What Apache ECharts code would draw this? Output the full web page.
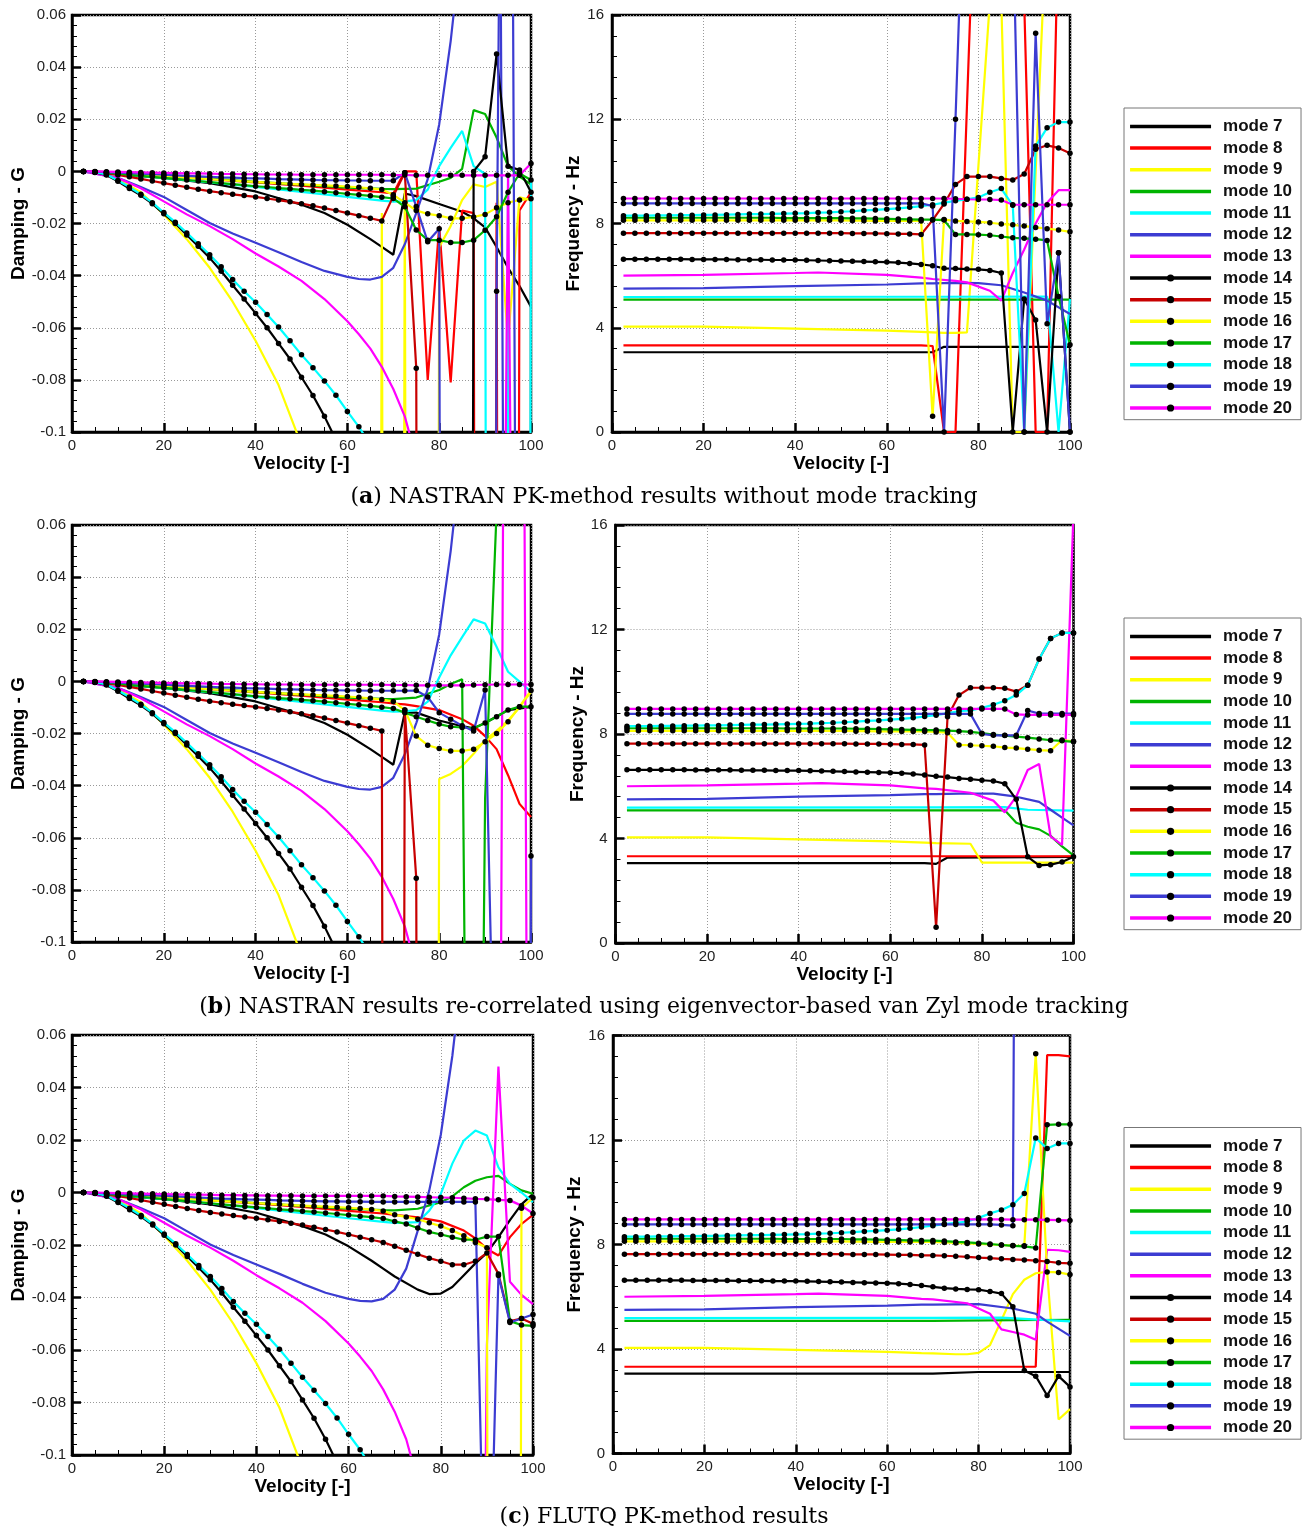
<!DOCTYPE html>
<html>
<head>
<meta charset="utf-8">
<title>Flutter analysis: damping and frequency versus velocity</title>
<script src="https://cdn.jsdelivr.net/npm/echarts@6/dist/echarts.min.js"></script>
<style>
  html, body { margin: 0; padding: 0; background: #fff; }
  #chart { width: 1306px; height: 1531px; }
</style>
</head>
<body>
<div id="chart"></div>
<script>
// velocity stations of the flutter sweep
const vel = [2.5, 5, 7.5, 10, 12.5, 15, 17.5, 20, 22.5, 25, 27.5, 30, 32.5, 35, 37.5, 40, 42.5, 45, 47.5, 50,
  52.5, 55, 57.5, 60, 62.5, 65, 67.5, 70, 72.5, 75, 77.5, 80, 82.5, 85, 87.5, 90, 92.5, 95, 97.5, 100];

// ---- damping, low-speed part (v = 2.5 .. 67.5), same in all three analyses ----
const dLow14 = [0, -0.0004, -0.0014, -0.0038, -0.0066, -0.0092, -0.0124, -0.0163, -0.02, -0.0244, -0.0287, -0.0332, -0.0383, -0.0437, -0.049, -0.0545, -0.06, -0.066, -0.072, -0.079, -0.086, -0.094, -0.103, -0.113, -0.124, -0.136, -0.15];
const dLow15 = [0, -0.0003, -0.0008, -0.0014, -0.0021, -0.0029, -0.0037, -0.0045, -0.0053, -0.0061, -0.0069, -0.0076, -0.0082, -0.0088, -0.0093, -0.0098, -0.0104, -0.011, -0.0117, -0.0124, -0.0132, -0.0141, -0.015, -0.016, -0.017, -0.018, -0.019];
const dLow16 = [0, -0.0001, -0.0003, -0.0006, -0.0009, -0.0012, -0.0015, -0.0018, -0.0021, -0.0024, -0.0027, -0.003, -0.0033, -0.0035, -0.0038, -0.004, -0.0043, -0.0045, -0.0048, -0.005, -0.0052, -0.0054, -0.0056, -0.0058, -0.0061, -0.0065, -0.007];
const dLow17 = [0, -0.0002, -0.0005, -0.0009, -0.0013, -0.0017, -0.0021, -0.0025, -0.0029, -0.0033, -0.0037, -0.0041, -0.0045, -0.0049, -0.0053, -0.0057, -0.006, -0.0064, -0.0067, -0.0071, -0.0074, -0.0078, -0.0082, -0.0086, -0.009, -0.0094, -0.0099];
const dLow18 = [0, -0.0003, -0.0012, -0.0035, -0.006, -0.0088, -0.012, -0.0158, -0.0195, -0.0236, -0.0278, -0.032, -0.0366, -0.0415, -0.046, -0.0502, -0.0549, -0.0597, -0.065, -0.0704, -0.0753, -0.0804, -0.0859, -0.0921, -0.098, -0.105, -0.112];
const dLow19 = [0, -0.0001, -0.0003, -0.0005, -0.0007, -0.0009, -0.0011, -0.0013, -0.0015, -0.0017, -0.0019, -0.0021, -0.0023, -0.0024, -0.0026, -0.0027, -0.0028, -0.003, -0.0031, -0.0032, -0.0033, -0.0034, -0.0034, -0.0035, -0.0035, -0.0036, -0.0036];
const dLow20 = [0, 0, -0.0001, -0.0002, -0.0003, -0.0004, -0.0005, -0.0006, -0.0007, -0.0008, -0.0008, -0.0009, -0.001, -0.001, -0.0011, -0.0011, -0.0012, -0.0012, -0.0012, -0.0013, -0.0013, -0.0013, -0.0013, -0.0013, -0.0013, -0.0013, -0.0013];
const dLow7 = [[2.5, 0], [10, -0.0012], [20, -0.0025], [30, -0.0045], [40, -0.0077], [50, -0.0128], [55, -0.016], [60, -0.0205], [65, -0.026], [67.5, -0.029]];
const dLow8 = [[2.5, 0], [10, -0.0008], [20, -0.0018], [30, -0.003], [40, -0.0042], [50, -0.0055], [60, -0.007], [67.5, -0.008]];
const dLow9 = [[2.5, 0], [5, -0.0003], [10, -0.003], [15, -0.008], [20, -0.0165], [25, -0.026], [30, -0.037], [35, -0.05], [40, -0.065], [45, -0.082], [50, -0.105], [55, -0.14], [60, -0.19]];
const dLow10 = [[2.5, 0], [10, -0.0006], [20, -0.0016], [30, -0.0028], [40, -0.004], [50, -0.0051], [60, -0.0062], [67.5, -0.0067]];
const dLow11 = [[2.5, 0], [10, -0.001], [20, -0.0025], [30, -0.0042], [40, -0.006], [50, -0.0079], [60, -0.0098], [67.5, -0.0112]];
const dLow12 = [[2.5, 0], [10, -0.0025], [15, -0.006], [20, -0.0098], [25, -0.0148], [30, -0.0198], [35, -0.0238], [40, -0.0274], [45, -0.031], [50, -0.0348], [55, -0.0382], [60, -0.0405], [62.5, -0.0413], [65, -0.0415], [67.5, -0.0405]];
const dLow13 = [[2.5, 0], [10, -0.0025], [15, -0.0065], [20, -0.0115], [25, -0.0165], [30, -0.021], [35, -0.026], [40, -0.0315], [45, -0.0365], [50, -0.042], [55, -0.049], [60, -0.0575], [62.5, -0.0625], [65, -0.068], [67.5, -0.075]];

// ---- frequency, low-speed part (v = 2.5 .. 67.5) ----
const fLow14 = [6.63, 6.63, 6.63, 6.63, 6.63, 6.63, 6.62, 6.62, 6.62, 6.62, 6.61, 6.61, 6.61, 6.6, 6.6, 6.6, 6.59, 6.58, 6.57, 6.56, 6.55, 6.54, 6.53, 6.52, 6.5, 6.47, 6.43];
const fLow15 = [7.63, 7.63, 7.63, 7.63, 7.63, 7.63, 7.63, 7.63, 7.63, 7.63, 7.63, 7.63, 7.63, 7.63, 7.63, 7.63, 7.63, 7.63, 7.63, 7.63, 7.62, 7.62, 7.62, 7.61, 7.6, 7.6, 7.58];
const fLow16 = [8.12, 8.12, 8.12, 8.12, 8.12, 8.12, 8.12, 8.12, 8.12, 8.12, 8.12, 8.12, 8.12, 8.12, 8.12, 8.12, 8.12, 8.12, 8.12, 8.12, 8.11, 8.11, 8.1, 8.1, 8.1, 8.1, 8.1];
const fLow17 = [8.22, 8.22, 8.22, 8.22, 8.22, 8.22, 8.22, 8.22, 8.22, 8.22, 8.22, 8.22, 8.22, 8.22, 8.21, 8.21, 8.21, 8.21, 8.21, 8.21, 8.2, 8.2, 8.19, 8.18, 8.17, 8.16, 8.15];
const fLow18 = [8.3, 8.3, 8.3, 8.31, 8.31, 8.32, 8.32, 8.33, 8.33, 8.34, 8.35, 8.36, 8.36, 8.37, 8.38, 8.39, 8.4, 8.42, 8.43, 8.45, 8.47, 8.5, 8.52, 8.55, 8.58, 8.62, 8.67];
const fLow19 = [8.77, 8.77, 8.77, 8.77, 8.77, 8.77, 8.77, 8.77, 8.77, 8.77, 8.77, 8.77, 8.77, 8.77, 8.77, 8.77, 8.77, 8.77, 8.77, 8.77, 8.77, 8.77, 8.77, 8.77, 8.77, 8.77, 8.77];
const fLow20 = [8.96, 8.96, 8.96, 8.96, 8.96, 8.96, 8.96, 8.96, 8.96, 8.96, 8.96, 8.96, 8.96, 8.96, 8.96, 8.96, 8.96, 8.96, 8.96, 8.96, 8.96, 8.96, 8.96, 8.96, 8.96, 8.96, 8.96];
const fLow7 = [[2.5, 3.06], [67.5, 3.06]];
const fLow8 = [[2.5, 3.32], [67.5, 3.32]];
const fLow9 = [[2.5, 4.04], [20, 4.04], [40, 3.97], [60, 3.89], [67.5, 3.84]];
const fLow10 = [[2.5, 5.08], [67.5, 5.08]];
const fLow11 = [[2.5, 5.18], [67.5, 5.19]];
const fLow12 = [[2.5, 5.5], [20, 5.52], [40, 5.6], [60, 5.66], [67.5, 5.7]];
const fLow13 = [[2.5, 6.0], [20, 6.03], [40, 6.1], [45, 6.12], [60, 6.03], [67.5, 5.92]];

// ---- (a) NASTRAN PK, no tracking: v = 70 .. 100 ----
const aD7 = dLow7.concat([[70, -0.032], [72.5, -0.0085], [75, -0.0095], [80, -0.0125], [85, -0.0155], [87.5, -0.018], [90, -0.0215], [92.5, -0.029], [95, -0.037], [97.5, -0.044], [100, -0.052]]);
const aD8 = dLow8.concat([[70, -0.0085], [72.5, 0], [75, 0], [77.5, -0.08], [80, -0.021], [82.5, -0.081], [85, -0.015], [87.5, -0.016], [90, -2], [92.5, -0.012], [95, -2], [97.5, -0.015], [100, -0.008]]);
const aD9 = dLow9.concat([[65, -2], [67.5, -0.016], [70, -2], [72.5, -0.007], [75, -2], [77.5, -2], [80, -0.029], [82.5, -0.021], [85, -0.011], [87.5, -0.005], [90, -0.006], [92.5, -0.004], [95, -0.065], [97.5, -0.01], [100, -0.011]]);
const aD10 = dLow10.concat([[70, -0.0068], [75, -0.0066], [80, -0.004], [82.5, -0.0025], [85, 0.001], [87.5, 0.0235], [90, 0.022], [92.5, 0.013], [95, 0.002], [97.5, -0.002], [100, -0.005]]);
const aD11 = dLow11.concat([[70, -0.0116], [72.5, -0.0115], [75, -0.011], [77.5, -0.007], [80, 0.002], [82.5, 0.009], [85, 0.0155], [87.5, 0.002], [90, -0.001], [92.5, -2], [95, -0.001], [97.5, -2], [100, -0.004]]);
const aD12 = dLow12.concat([[70, -0.037], [72.5, -0.028], [75, -0.016], [77.5, -0.003], [80, 0.018], [82.5, 0.05], [85, 0.09], [87.5, 0.15], [90, 0.2], [92.5, 0.4], [95, -0.5], [100, -0.5]]);
const aD13 = dLow13.concat([[70, -0.0835], [72.5, -0.094], [75, -0.11], [80, -0.3], [92.5, -0.5], [95, -0.002], [97.5, -0.5], [100, -0.5]]);
const aD14 = dLow14.concat([-0.165, -0.2, -0.3, -0.5, -1, -1.5, -2, 0, 0.0056, 0.045, 0.002, 0.0005, -0.008]);
const aD15 = dLow15.concat([-0.0095, -0.0005, -0.0755, -2, -2, -2, -2, -2, -2, -2, -2, -2, -2]);
const aD16 = dLow16.concat([-0.009, -0.012, -0.015, -0.0163, -0.017, -0.018, -0.018, -0.0175, -0.0165, -0.014, -0.012, -0.011, -0.0105]);
const aD17 = dLow17.concat([-0.0104, -0.0136, -0.0225, -0.0264, -0.0264, -0.0273, -0.0273, -0.0264, -0.0226, -0.0174, -0.008, -0.0008, -0.0033]);
const aD18 = dLow18.concat([-0.12, -0.13, -0.14, -0.15, -0.17, -0.19, -0.21, -0.24, -0.27, -0.3, -0.33, -0.36, -0.4]);
const aD19 = dLow19.concat([-0.0036, -0.0005, -0.0135, -0.027, -0.022, -2, -2, -2, -2, -0.046, 0.5, -0.5, -0.5]);
const aD20 = dLow20.concat([-0.0014, -0.0014, -0.0015, -0.0015, -0.0015, -0.0015, -0.0015, -0.0015, -0.0015, -0.0015, -0.0015, -0.0015, 0.003]);

const aF7 = fLow7.concat([[70, 3.06], [72.5, 3.27], [100, 3.27]]);
const aF8 = fLow8.concat([[70, 3.3], [72.5, 0], [75, 0], [77.5, 12.5], [80, 25], [87.5, 25], [90, 16.5], [92.5, 0], [95, 0], [97.5, 20], [100, 20]]);
const aF9 = fLow9.concat([[70, 3.82], [72.5, 3.8], [75, 3.8], [77.5, 3.82], [80, 10.2], [82.5, 16.5], [85, 16.5], [87.5, 0], [90, 0], [92.5, 10], [95, 20], [100, 20]]);
const aF10 = fLow10.concat([[70, 5.08], [100, 5.08]]);
const aF11 = fLow11.concat([[70, 5.19], [95, 5.2], [97.5, 0], [100, 5.1]]);
const aF12 = fLow12.concat([[70, 5.7], [75, 5.72], [80, 5.71], [85, 5.63], [90, 5.35], [95, 5.04], [100, 4.53]]);
const aF13 = fLow13.concat([[70, 5.87], [75, 5.8], [77.5, 5.74], [82.5, 5.42], [85, 5.04], [87.5, 6.1], [90, 7.0], [92.5, 8.0], [95, 8.8], [97.5, 9.28], [100, 9.28]]);
const aF14 = fLow14.concat([6.38, 6.28, 6.27, 6.25, 6.24, 6.2, 6.1, 0, 5.1, 4.3, 0, 6.88, 0]);
const aF15 = fLow15.concat([8.13, 8.75, 9.5, 9.8, 9.8, 9.8, 9.73, 9.67, 9.9, 10.85, 11.0, 10.9, 10.7]);
const aF16 = fLow16.concat([0.6, 8.15, 8.1, 8.08, 8.06, 8.03, 7.98, 7.95, 7.9, 7.85, 7.8, 7.75, 7.68]);
const aF17 = fLow17.concat([8.15, 8.13, 7.58, 7.58, 7.57, 7.55, 7.5, 7.45, 7.43, 7.4, 7.35, 5.2, 3.35]);
const aF18 = fLow18.concat([8.72, 8.8, 8.87, 8.93, 9.0, 9.2, 9.34, 8.7, 0, 10.97, 11.67, 11.89, 11.89]);
const aF19 = fLow19.concat([8.67, 0, 12, 25, 25, 25, 25, 20, 0, 15.3, 4.15, 6.88, 0]);
const aF20 = fLow20.concat([8.96, 8.96, 8.95, 8.93, 8.92, 8.92, 8.9, 8.72, 8.72, 8.72, 8.72, 8.72, 8.72]);

// ---- (b) NASTRAN re-correlated with van Zyl tracking ----
const bD7 = dLow7.concat([[70, -0.032], [72.5, -0.012], [75, -0.012], [80, -0.015], [85, -0.0172], [87.5, -0.018], [90, -0.016], [95, -0.011], [100, -0.0098]]);
const bD8 = dLow8.concat([[70, -0.0085], [72.5, -0.0088], [75, -0.0095], [80, -0.011], [85, -0.0145], [87.5, -0.017], [90, -0.021], [92.5, -0.026], [95, -0.036], [97.5, -0.047], [100, -0.052]]);
const bD9 = dLow9.concat([[65, -0.26], [70, -0.4], [77.5, -2], [80, -0.0375], [82.5, -0.0355], [85, -0.0325], [87.5, -0.0278], [90, -0.0225], [92.5, -0.019], [95, -0.015], [97.5, -0.01], [100, -0.004]]);
const bD10 = dLow10.concat([[70, -0.0068], [75, -0.0062], [80, -0.0033], [82.5, -0.001], [85, 0.0008], [87.5, -0.5], [90, -0.045], [92.5, 0.065], [95, 0.3], [100, 0.6]]);
const bD11 = dLow11.concat([[70, -0.0116], [72.5, -0.0115], [75, -0.011], [77.5, -0.0078], [80, 0.0015], [82.5, 0.01], [85, 0.017], [87.5, 0.0238], [90, 0.0222], [92.5, 0.0133], [95, 0.0037], [97.5, -0.0001], [100, -0.004]]);
const bD12 = dLow12.concat([[70, -0.037], [72.5, -0.028], [75, -0.016], [77.5, -0.003], [80, 0.018], [82.5, 0.05], [85, 0.09], [90, 0.2], [100, 0.5]]);
const bD13 = dLow13.concat([[70, -0.0835], [72.5, -0.094], [75, -0.11], [80, -0.3], [92.5, -0.5], [95, 0.5], [97.5, 0.5], [100, -0.5]]);
const bD14 = dLow14.concat([-0.165, -0.2, -0.24, -0.28, -0.32, -0.36, -0.4, -0.44, -0.48, -0.52, -0.56, -0.6, -0.64]);
const bD15 = dLow15.concat([-2, -0.011, -0.0755, -2, -2, -2, -2, -2, -2, -2, -2, -2, -2]);
const bD16 = dLow16.concat([-0.0077, -0.011, -0.021, -0.0245, -0.0258, -0.0267, -0.0267, -0.026, -0.0232, -0.02, -0.0155, -0.0097, -0.0035]);
const bD17 = dLow17.concat([-0.0104, -0.012, -0.0136, -0.015, -0.0164, -0.0174, -0.0177, -0.018, -0.016, -0.0136, -0.011, -0.0097, -0.0097]);
const bD18 = dLow18.concat([-0.12, -0.13, -0.14, -0.15, -0.17, -0.19, -0.21, -0.24, -0.27, -0.3, -0.33, -0.36, -0.4]);
const bD19 = dLow19.concat([-0.0036, -0.0036, -0.0035, -0.006, -0.012, -0.0145, -0.017, -0.019, -0.0033, -0.2, -2, -2, -0.067]);
const bD20 = dLow20.concat([-0.0014, -0.0014, -0.0015, -0.0015, -0.0015, -0.0015, -0.0015, -0.0014, -0.0013, -0.0012, -0.0012, -0.0012, -0.0012]);

const bF7 = fLow7.concat([[70, 3.03], [72.5, 3.27], [100, 3.3]]);
const bF8 = fLow8.concat([[70, 3.32], [100, 3.32]]);
const bF9 = fLow9.concat([[70, 3.82], [77.5, 3.8], [80, 3.08], [100, 3.08]]);
const bF10 = fLow10.concat([[70, 5.08], [85, 5.08], [87.5, 4.6], [90, 4.45], [92.5, 4.35], [95, 4.1], [97.5, 3.7], [100, 3.35]]);
const bF11 = fLow11.concat([[70, 5.19], [85, 5.2], [90, 5.1], [100, 5.07]]);
const bF12 = fLow12.concat([[70, 5.7], [75, 5.72], [82.5, 5.72], [87.5, 5.6], [92.5, 5.4], [95, 5.1], [97.5, 4.8], [100, 4.5]]);
const bF13 = fLow13.concat([[70, 5.9], [77.5, 5.75], [82.5, 5.45], [85, 5.0], [87.5, 5.6], [90, 6.62], [92.5, 6.85], [95, 4.08], [97.5, 3.76], [100, 16.5]]);
const bF14 = fLow14.concat([6.38, 6.35, 6.3, 6.27, 6.23, 6.2, 6.1, 5.5, 3.3, 2.97, 3.0, 3.1, 3.3]);
const bF15 = fLow15.concat([0.6, 8.66, 9.49, 9.77, 9.77, 9.77, 9.75, 9.62, 9.87, 10.87, 11.66, 11.87, 11.87]);
const bF16 = fLow16.concat([8.08, 8.05, 7.58, 7.57, 7.55, 7.53, 7.48, 7.46, 7.42, 7.38, 7.36, 7.77, 7.72]);
const bF17 = fLow17.concat([8.15, 8.13, 8.11, 8.08, 8.03, 7.98, 7.94, 7.9, 7.86, 7.81, 7.76, 7.74, 7.7]);
const bF18 = fLow18.concat([8.72, 8.8, 8.87, 8.9, 9.0, 9.12, 9.27, 9.49, 9.87, 10.87, 11.66, 11.87, 11.87]);
const bF19 = fLow19.concat([8.77, 8.77, 8.77, 8.77, 8.0, 7.95, 7.95, 7.95, 8.9, 8.78, 8.78, 8.78, 8.78]);
const bF20 = fLow20.concat([8.96, 8.96, 8.96, 8.96, 8.96, 8.96, 8.96, 8.75, 8.73, 8.73, 8.73, 8.73, 8.73]);

// ---- (c) FLUTQ PK ----
const cD7 = dLow7.concat([[70, -0.032], [75, -0.037], [77.5, -0.0387], [80, -0.0385], [82.5, -0.036], [85, -0.0315], [87.5, -0.027], [90, -0.023], [92.5, -0.017], [95, -0.0105], [97.5, -0.0045], [100, -0.0005]]);
const cD8 = dLow8.concat([[70, -0.0085], [75, -0.0095], [80, -0.011], [85, -0.0145], [87.5, -0.0175], [90, -0.0215], [92.5, -0.024], [95, -0.017], [97.5, -0.012], [100, -0.0085]]);
const cD9 = dLow9.concat([[65, -0.26], [70, -0.4], [100, -1]]);
const cD10 = dLow10.concat([[70, -0.0068], [75, -0.0062], [80, -0.0037], [82.5, -0.0015], [85, 0.002], [87.5, 0.0045], [90, 0.0058], [92.5, 0.0063], [95, 0.0033], [97.5, 0.0008], [100, -0.0005]]);
const cD11 = dLow11.concat([[70, -0.0116], [72.5, -0.0115], [75, -0.0113], [77.5, -0.0069], [80, -0.0005], [82.5, 0.011], [85, 0.0198], [87.5, 0.0236], [90, 0.0217], [92.5, 0.0096], [95, 0.0033], [97.5, 0], [100, -0.0037]]);
const cD12 = dLow12.concat([[70, -0.037], [72.5, -0.029], [75, -0.0145], [77.5, 0.0008], [80, 0.022], [82.5, 0.052], [85, 0.09], [90, 0.2], [100, 0.5]]);
const cD13 = dLow13.concat([[70, -0.0835], [72.5, -0.094], [75, -0.11], [80, -0.3], [87.5, -0.5], [90, -0.058], [92.5, 0.048], [95, -0.034], [97.5, -0.039], [100, -0.0425]]);
const cD14 = dLow14.concat([-0.165, -0.2, -0.24, -0.28, -0.32, -0.36, -0.4, -0.44, -0.48, -0.52, -0.56, -0.6, -0.64]);
const cD15 = dLow15.concat([-0.0205, -0.022, -0.0235, -0.025, -0.0262, -0.0275, -0.0275, -0.0262, -0.023, -0.031, -0.049, -0.048, -0.05]);
const cD16 = dLow16.concat([-0.0085, -0.0093, -0.0102, -0.0115, -0.0128, -0.0145, -0.0165, -0.019, -0.021, -2, -2, -0.006, -0.002]);
const cD17 = dLow17.concat([-0.011, -0.012, -0.0135, -0.015, -0.016, -0.017, -0.018, -0.018, -0.0168, -0.0168, -0.049, -0.0505, -0.0508]);
const cD18 = dLow18.concat([-0.12, -0.13, -0.14, -0.15, -0.17, -0.19, -0.21, -0.24, -0.27, -0.3, -0.33, -0.36, -0.4]);
const cD19 = dLow19.concat([-0.0036, -0.0036, -0.0036, -0.0036, -0.0036, -0.0036, -0.0036, -0.0036, -0.2, -0.0316, -0.0495, -0.048, -0.0465]);
const cD20 = dLow20.concat([-0.0015, -0.0016, -0.0017, -0.0018, -0.0019, -0.002, -0.0022, -0.0024, -0.0025, -0.0028, -0.003, -0.005, -0.008]);

const cF7 = fLow7.concat([[70, 3.06], [80, 3.12], [100, 3.12]]);
const cF8 = fLow8.concat([[70, 3.32], [92.5, 3.32], [95, 15.25], [97.5, 15.25], [100, 15.2]]);
const cF9 = fLow9.concat([[70, 3.83], [75, 3.8], [77.5, 3.8], [80, 3.85], [82.5, 4.15], [85, 5.1], [87.5, 6.1], [90, 6.65], [92.5, 6.9], [95, 6.95], [97.5, 1.3], [100, 1.7]]);
const cF10 = fLow10.concat([[70, 5.08], [100, 5.12]]);
const cF11 = fLow11.concat([[70, 5.19], [85, 5.2], [100, 5.06]]);
const cF12 = fLow12.concat([[70, 5.7], [80, 5.72], [87.5, 5.55], [92.5, 5.35], [95, 5.05], [100, 4.5]]);
const cF13 = fLow13.concat([[70, 5.9], [77.5, 5.75], [80, 5.55], [82.5, 5.35], [85, 4.75], [87.5, 4.65], [90, 4.55], [92.5, 4.35], [95, 7.8], [97.5, 7.78], [100, 7.72]]);
const cF14 = fLow14.concat([6.38, 6.33, 6.3, 6.28, 6.27, 6.2, 6.12, 5.62, 3.18, 2.96, 2.22, 2.96, 2.55]);
const cF15 = fLow15.concat([7.58, 7.57, 7.55, 7.53, 7.5, 7.48, 7.45, 7.43, 7.41, 7.38, 7.35, 7.3, 7.28]);
const cF16 = fLow16.concat([8.1, 8.08, 8.06, 8.04, 8.02, 8.0, 7.98, 7.96, 7.95, 15.3, 6.95, 6.93, 6.85]);
const cF17 = fLow17.concat([8.15, 8.13, 8.1, 8.08, 8.05, 8.02, 7.98, 7.95, 7.93, 7.87, 12.58, 12.6, 12.6]);
const cF18 = fLow18.concat([8.72, 8.78, 8.83, 8.88, 9.02, 9.19, 9.32, 9.52, 9.95, 12.08, 11.67, 11.87, 11.87]);
const cF19 = fLow19.concat([8.77, 8.77, 8.77, 8.77, 8.77, 8.77, 8.75, 8.72, 100, 100, 100, 100, 100]);
const cF20 = fLow20.concat([8.96, 8.96, 8.96, 8.96, 8.96, 8.96, 8.96, 8.95, 8.95, 8.95, 8.94, 8.93, 8.92]);

const modes = [7, 8, 9, 10, 11, 12, 13, 14, 15, 16, 17, 18, 19, 20];
const modeColors = ['#000000', '#ff0000', '#ffff00', '#00b400', '#00ffff', '#3c3cd2', '#ff00ff',
  '#000000', '#c80000', '#ffff00', '#00b400', '#00ffff', '#3c3cd2', '#ff00ff'];
const captions = [
  '({b|a}) NASTRAN PK-method results without mode tracking',
  '({b|b}) NASTRAN results re-correlated using eigenvector-based van Zyl mode tracking',
  '({b|c}) FLUTQ PK-method results'
];

// panel order: damping (a), frequency (a), damping (b), ...
const panelData = [
  [aD7, aD8, aD9, aD10, aD11, aD12, aD13, aD14, aD15, aD16, aD17, aD18, aD19, aD20],
  [aF7, aF8, aF9, aF10, aF11, aF12, aF13, aF14, aF15, aF16, aF17, aF18, aF19, aF20],
  [bD7, bD8, bD9, bD10, bD11, bD12, bD13, bD14, bD15, bD16, bD17, bD18, bD19, bD20],
  [bF7, bF8, bF9, bF10, bF11, bF12, bF13, bF14, bF15, bF16, bF17, bF18, bF19, bF20],
  [cD7, cD8, cD9, cD10, cD11, cD12, cD13, cD14, cD15, cD16, cD17, cD18, cD19, cD20],
  [cF7, cF8, cF9, cF10, cF11, cF12, cF13, cF14, cF15, cF16, cF17, cF18, cF19, cF20]
];
const gridBoxes = [
  [72, 15, 459, 417], [612, 15, 458, 417],
  [72, 525, 459, 417], [615.5, 525, 458, 418],
  [72, 1035, 461, 420], [613, 1035.5, 457, 418]
];
const legendTops = [108, 618, 1127.5];
const captionY = [497, 1007, 1517];

const FONT = 'Liberation Sans, Arial, sans-serif';
const chart = echarts.init(document.getElementById('chart'), null, { renderer: 'canvas' });

const grid = gridBoxes.map(b => ({
  left: b[0], top: b[1], width: b[2], height: b[3],
  show: true, borderColor: '#000', borderWidth: 2.5, backgroundColor: 'transparent'
}));

const axisCommon = {
  type: 'value',
  axisTick: { show: true, inside: true, length: 9, lineStyle: { color: '#000', width: 2.5 } },
  minorTick: { show: true, length: 5, lineStyle: { color: '#000', width: 1 } },
  splitLine: { show: true, lineStyle: { color: '#999', width: 1, type: [1, 2] } },
  axisLabel: { fontSize: 15, color: '#222', fontFamily: FONT },
  nameLocation: 'middle',
  nameTextStyle: { fontSize: 19, fontWeight: 'bold', color: '#000', fontFamily: FONT }
};

// the velocity axis must stay on the bottom edge, not on the zero of the damping axis
const xAxis = gridBoxes.map((b, i) => Object.assign({}, axisCommon, {
  gridIndex: i, position: 'bottom', min: 0, max: 100, interval: 20,
  axisLine: { show: true, onZero: false, lineStyle: { color: '#000', width: 2.5 } },
  minorTick: Object.assign({}, axisCommon.minorTick, { splitNumber: 4 }),
  axisLabel: Object.assign({}, axisCommon.axisLabel, { margin: 6 }),
  name: 'Velocity [-]', nameGap: 17
}));

const yAxis = gridBoxes.map((b, i) => {
  const isDamp = i % 2 === 0;
  return Object.assign({}, axisCommon, {
    gridIndex: i,
    position: 'left',
    min: isDamp ? -0.1 : 0,
    max: isDamp ? 0.06 : 16,
    interval: isDamp ? 0.02 : 4,
    axisLine: { show: true, onZero: false, lineStyle: { color: '#000', width: 2.5 } },
    minorTick: Object.assign({}, axisCommon.minorTick, { splitNumber: 5 }),
    axisLabel: Object.assign({}, axisCommon.axisLabel, {
      margin: isDamp ? 6 : 8,
      formatter: v => String(Math.round(v * 100) / 100)
    }),
    name: isDamp ? 'Damping - G' : 'Frequency - Hz',
    nameGap: isDamp ? 43 : 25
  });
});

const series = [];
panelData.forEach((lines, g) => {
  lines.forEach((vals, k) => {
    const dotted = modes[k] >= 14;
    series.push({
      name: 'mode ' + modes[k],
      type: 'line',
      xAxisIndex: g,
      yAxisIndex: g,
      data: dotted ? vals.map((y, i) => [vel[i], y]) : vals,
      symbol: 'circle',
      symbolSize: 5.5,
      showSymbol: dotted,
      lineStyle: { color: modeColors[k], width: 2.2 },
      itemStyle: { color: dotted ? '#000' : 'rgba(0,0,0,0)' },
      clip: true,
      silent: true,
      animation: false,
      emphasis: { disabled: true }
    });
  });
});

const legend = legendTops.map(top => ({
  orient: 'vertical',
  left: 1124,
  top: top,
  data: modes.map(m => 'mode ' + m),
  selectedMode: false,
  itemWidth: 81,
  itemHeight: 9,
  itemGap: 4.66,
  padding: [9.9, 9, 3.2, 4.3],
  borderColor: '#777',
  borderWidth: 1,
  lineStyle: { width: 3.5 },
  textStyle: { fontSize: 17, fontWeight: 'bold', color: '#111', fontFamily: FONT, lineHeight: 17, padding: [0, 0, 0, 7] }
}));

const graphic = captions.map((t, i) => ({
  type: 'text',
  x: 664,
  y: captionY[i],
  style: {
    text: t,
    fontFamily: 'DejaVu Serif, serif',
    fontSize: 22,
    fill: '#000',
    align: 'center',
    verticalAlign: 'middle',
    rich: { b: { fontFamily: 'DejaVu Serif, serif', fontSize: 22, fontWeight: 'bold', fill: '#000' } }
  }
}));

chart.setOption({
  backgroundColor: '#fff',
  animation: false,
  grid: grid,
  xAxis: xAxis,
  yAxis: yAxis,
  legend: legend,
  graphic: graphic,
  series: series
});
</script>
</body>
</html>
